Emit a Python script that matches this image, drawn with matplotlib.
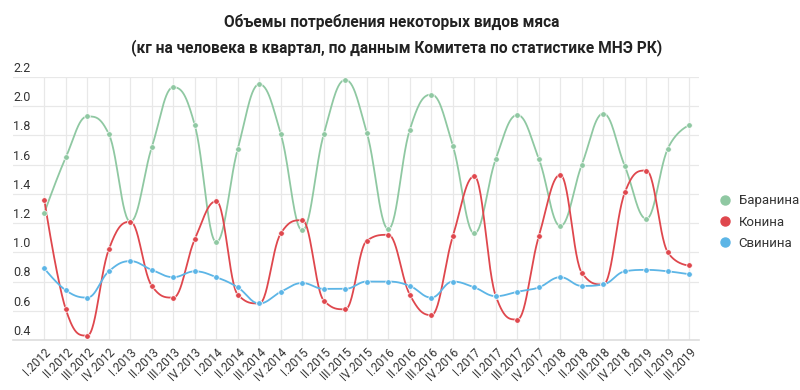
import numpy as np
import matplotlib
matplotlib.use("Agg")
import matplotlib.pyplot as plt
from matplotlib.lines import Line2D

plt.rcParams['font.family'] = ['Roboto', 'DejaVu Sans']

# quarters I.2012 .. III.2019
quarters = ['I.2012', 'II.2012', 'III.2012', 'IV.2012',
            'I.2013', 'II.2013', 'III.2013', 'IV.2013',
            'I.2014', 'II.2014', 'III.2014', 'IV.2014',
            'I.2015', 'II.2015', 'III.2015', 'IV.2015',
            'I.2016', 'II.2016', 'III.2016', 'IV.2016',
            'I.2017', 'II.2017', 'III.2017', 'IV.2017',
            'I.2018', 'II.2018', 'III.2018', 'IV.2018',
            'I.2019', 'II.2019', 'III.2019']

lamb = [1.27, 1.65, 1.93, 1.81, 1.21, 1.72, 2.13, 1.87, 1.07, 1.71, 2.15,
        1.81, 1.15, 1.81, 2.18, 1.82, 1.16, 1.84, 2.08, 1.73, 1.13, 1.64,
        1.94, 1.64, 1.18, 1.60, 1.95, 1.59, 1.23, 1.71, 1.87]
horse = [1.36, 0.61, 0.43, 1.02, 1.21, 0.77, 0.69, 1.09, 1.35, 0.71, 0.65,
         1.13, 1.22, 0.67, 0.61, 1.08, 1.12, 0.71, 0.57, 1.11, 1.52, 0.70,
         0.54, 1.11, 1.53, 0.86, 0.78, 1.41, 1.56, 1.00, 0.91]
pork = [0.89, 0.74, 0.69, 0.87, 0.94, 0.88, 0.83, 0.87, 0.83, 0.76, 0.65,
        0.73, 0.79, 0.75, 0.75, 0.80, 0.80, 0.77, 0.69, 0.80, 0.76, 0.70,
        0.73, 0.76, 0.83, 0.77, 0.78, 0.87, 0.88, 0.87, 0.85]

series_names = ['Баранина', 'Конина', 'Свинина']
series_colors = ['#8fc8a2', '#df474d', '#5cb5e6']


def spline(x, y, steps=30):
    """smooth curve through the points (highcharts-like spline)"""
    x = np.asarray(x, float)
    y = np.asarray(y, float)
    n = len(x)
    lx, ly = x.copy(), y.copy()
    rx, ry = x.copy(), y.copy()
    s, d = 1.5, 2.5
    for i in range(1, n - 1):
        lcx = (s * x[i] + x[i - 1]) / d
        lcy = (s * y[i] + y[i - 1]) / d
        rcx = (s * x[i] + x[i + 1]) / d
        rcy = (s * y[i] + y[i + 1]) / d
        corr = (rcy - lcy) * (rcx - x[i]) / (rcx - lcx) + y[i] - rcy
        lcy += corr
        rcy += corr
        if lcy > y[i - 1] and lcy > y[i]:
            lcy = max(y[i - 1], y[i]); rcy = 2 * y[i] - lcy
        elif lcy < y[i - 1] and lcy < y[i]:
            lcy = min(y[i - 1], y[i]); rcy = 2 * y[i] - lcy
        if rcy > y[i + 1] and rcy > y[i]:
            rcy = max(y[i + 1], y[i]); lcy = 2 * y[i] - rcy
        elif rcy < y[i + 1] and rcy < y[i]:
            rcy = min(y[i + 1], y[i]); lcy = 2 * y[i] - rcy
        lx[i], ly[i], rx[i], ry[i] = lcx, lcy, rcx, rcy
    t = np.linspace(0, 1, steps)[:, None]
    xs, ys = [], []
    for i in range(1, n):
        p0 = np.array([x[i - 1], y[i - 1]])
        p1 = np.array([rx[i - 1], ry[i - 1]])
        p2 = np.array([lx[i], ly[i]])
        p3 = np.array([x[i], y[i]])
        b = ((1 - t) ** 3) * p0 + 3 * ((1 - t) ** 2) * t * p1 + 3 * (1 - t) * t ** 2 * p2 + t ** 3 * p3
        xs.append(b[:, 0]); ys.append(b[:, 1])
    return np.concatenate(xs), np.concatenate(ys)


fig = plt.figure(figsize=(8, 3.9), dpi=100)
ax = fig.add_axes([13 / 800, 1 - 340 / 390, (699 - 13) / 800, (340 - 77) / 390])

xpos = np.arange(len(quarters))
for vals, name, col in zip([lamb, horse, pork], series_names, series_colors):
    cx, cy = spline(xpos, vals)
    ax.plot(cx, cy, color=col, lw=1.3, zorder=3)
    ax.plot(xpos, vals, 'o', color=col, ms=4, mec='white', mew=0.5, zorder=4)

ax.set_xlim(-1.456, 30.45)
ax.set_ylim(0.4, 2.2)
yticks = np.arange(0.4, 2.21, 0.2)
ax.set_yticks(yticks)
ax.set_yticklabels([])
ax.tick_params(axis='y', length=0)
ax.set_xticks(xpos)
ax.set_xticklabels(quarters, rotation=45, ha='right', rotation_mode='anchor',
                   fontsize=8.5, color='#333333')
ax.tick_params(axis='x', length=0, pad=4)
ax.grid(True, color='#e8e8e8', lw=0.9, zorder=0)
for side in ['top', 'right', 'left']:
    ax.spines[side].set_visible(False)
ax.spines['bottom'].set_color('#dddddd')
ax.spines['bottom'].set_linewidth(1.2)

# y labels sit above gridlines
for v in yticks:
    ax.annotate(f'{v:.1f}', xy=(0, v), xycoords=ax.get_yaxis_transform(),
                xytext=(0, 1.5), textcoords='offset points',
                ha='left', va='bottom', fontsize=9, color='#333333')

fig.text(0.49, 0.943, 'Объемы потребления некоторых видов мяса',
         ha='center', va='center', fontsize=11.2, fontweight='bold', color='#222222')
fig.text(0.4955, 0.878, '(кг на человека в квартал, по данным Комитета по статистике МНЭ РК)',
         ha='center', va='center', fontsize=11.2, fontweight='bold', color='#222222')

handles = [Line2D([], [], marker='o', ls='none', color=c, ms=6.5) for c in series_colors]
fig.legend(handles, series_names, loc='center left', bbox_to_anchor=(707 / 800, 1 - 222 / 390),
           frameon=False, fontsize=9.5, handletextpad=0.5, labelspacing=0.62,
           handlelength=1.0, labelcolor='#333333')

fig.savefig('out.png', dpi=100)
